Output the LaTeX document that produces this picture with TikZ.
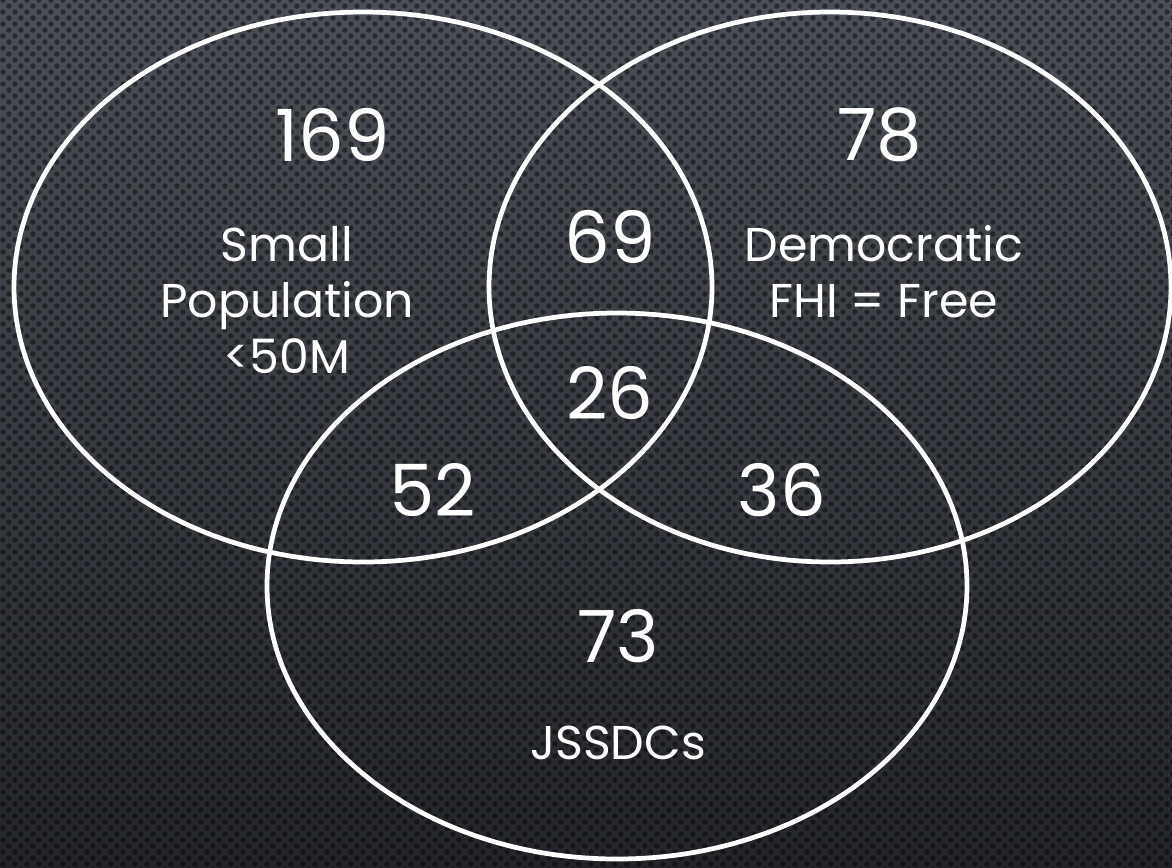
\documentclass[tikz,border=0pt]{standalone}
\usepackage{fontspec}
\setmainfont{Poppins}
\usetikzlibrary{patterns.meta}

\definecolor{bgtop}{HTML}{4B4F57}
\definecolor{bgmid}{HTML}{383B41}
\definecolor{bgbot}{HTML}{23252A}

\tikzdeclarepattern{
  name=holes, type=uncolored,
  bounding box={(0pt,0pt) and (6.8pt,6.8pt)},
  tile size={(6.8pt,6.8pt)},
  code={
    \fill (1.7pt,1.7pt) circle (1.55pt);
    \fill (5.1pt,5.1pt) circle (1.55pt);
  }}

\begin{document}
\begin{tikzpicture}[x=0.02cm, y=-0.02cm,
    ring/.style={draw=white, line width=2.7pt},
    num/.style={text=white, font=\fontsize{41}{48}\selectfont},
    lbl/.style={text=white, align=center, font=\fontsize{27}{32}\selectfont}]
        \useasboundingbox (0,0) rectangle (1172,867);

        % background
        \shade [top color=bgtop, middle color=bgmid, bottom color=bgbot] (0,0) rectangle (1172,867);
        \fill [pattern=holes, pattern color=black, fill opacity=0.45] (0,0) rectangle (1172,867);

        % the three sets
        \draw [ring] (363,287) ellipse [x radius=349, y radius=275];
        \draw [ring] (830,287) ellipse [x radius=341, y radius=275];
        \draw [ring] (617,586) ellipse [x radius=350, y radius=273];

        \node [num] (small) at (333,135) {169};
        \node [lbl] (smallname) at (287,300) {Small\\Population\\<50M};

        \node [num] (demo) at (880,135) {78};
        \node [lbl] (demoname) at (884,272) {Democratic\\FHI = Free};

        \node [num] (both) at (610,237) {69};
        \node [num] (all) at (610,393) {26};
        \node [num] (smalljs) at (433,490) {52};
        \node [num] (demojs) at (782,490) {36};

        \node [num] (js) at (618,636) {73};
        \node [lbl] (jsname) at (618,743) {JSSDCs};

    \end{tikzpicture}
\end{document}
